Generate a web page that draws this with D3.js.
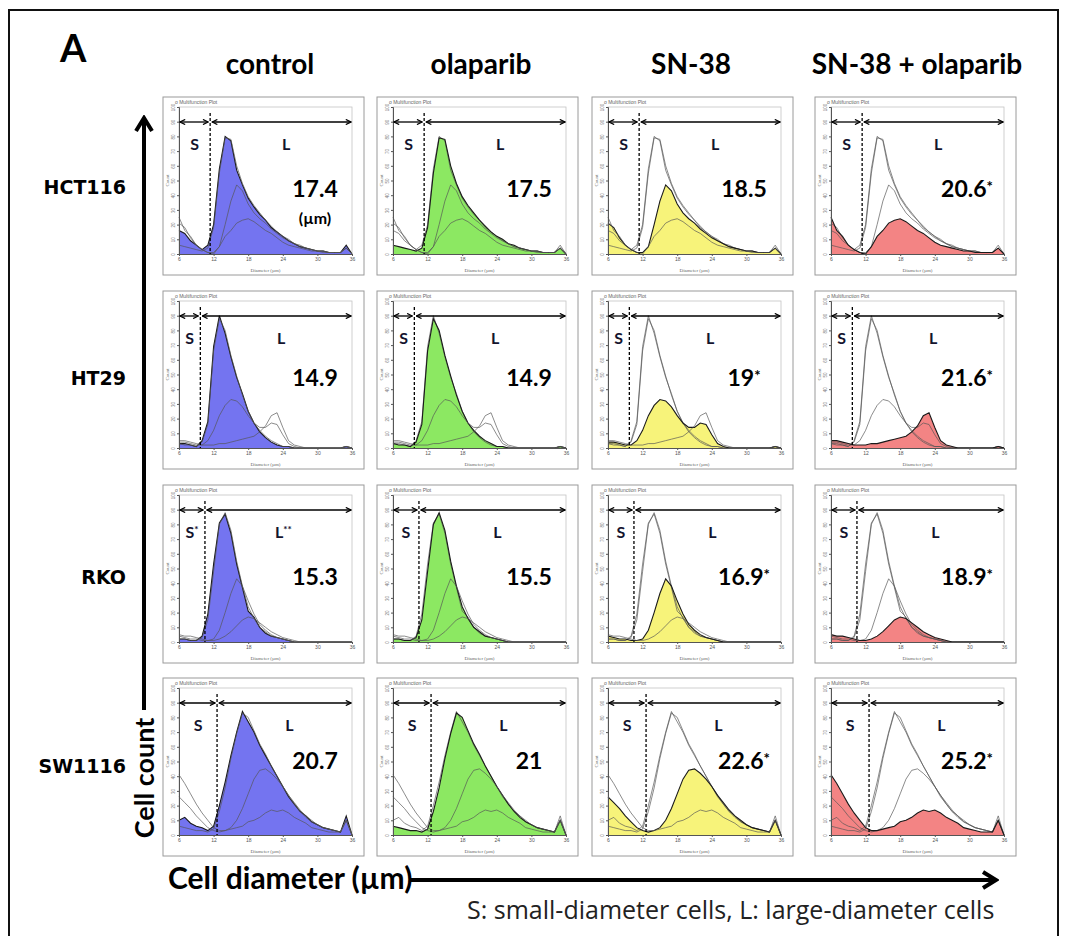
<!DOCTYPE html>
<html><head><meta charset="utf-8">
<script src="https://cdn.jsdelivr.net/npm/d3@7"></script>
<style>body{margin:0;background:#fff;} svg{display:block;}</style>
</head><body>
<svg id="fig" width="1067" height="936"></svg>
<script>
// diameter bins (µm) and relative cell counts (% of y-axis height)
var diameters = [6,7,8,9,10,11,12,13,14,15,16,17,18,19,20,21,22,23,24,25,26,27,28,29,30,31,32,33,34,35,36];
var conditions = ["control","olaparib","SN-38","SN-38 + olaparib"];
var cellLines = ["HCT116","HT29","RKO","SW1116"];
var fillColors = ["#7474f0","#8ce862","#f7f37a","#f38484"];

var hct116 = [
  [16,14,9,6,3,6, 20,58,80,77,57, 47,38,32,27,23, 18,15,12,9,7, 5,4,3,2,2, 1,1,1,6,0],
  [6,5,4,3,2,4, 18,55,79,78,60, 48,39,33,28,23, 19,15,12,10,7, 6,4,3,2,2, 1,1,1,4,0],
  [21,18,11,6,3,1, 1,5,20,36,47, 43,34,28,24,21, 17,14,11,9,7, 5,4,3,2,2, 1,1,1,4,0],
  [25,16,12,6,3,1, 0,5,12,16,21, 23,24,22,19,16, 14,11,8,6,5, 4,3,2,2,1, 1,1,1,4,0]
];
var ht29 = [
  [3,3,2,1,5,18, 69,90,78,62,48, 37,25,17,11,7, 4,2,1,1,0, 0,0,0,0,0, 0,0,0,1,0],
  [3,2,2,1,4,16, 66,88,80,63,49, 36,25,17,12,8, 5,3,1,1,0, 0,0,0,0,0, 0,0,0,1,0],
  [4,4,3,2,2,5, 12,22,29,33,32, 28,22,17,14,14, 17,16,9,3,1, 0,0,0,0,0, 0,0,0,1,0],
  [5,5,4,3,2,2, 2,3,3,4,5, 6,7,8,11,15, 22,24,14,5,2, 1,0,0,0,0, 0,0,0,1,0]
];
var rko = [
  [2,2,1,1,4,19, 53,81,87,74,53, 37,21,17,10,6, 4,3,2,1,0, 0,0,0,0,0, 0,0,0,0,0],
  [2,2,1,1,3,15, 48,80,88,76,55, 38,24,16,10,7, 4,3,2,1,0, 0,0,0,0,0, 0,0,0,0,0],
  [4,3,2,2,1,1, 2,8,20,33,43, 38,28,19,12,8, 5,3,2,1,0, 0,0,0,0,0, 0,0,0,0,0],
  [5,4,4,3,2,1, 1,2,4,7,11, 15,17,16,13,10, 7,5,3,2,1, 0,0,0,0,0, 0,0,0,0,0]
];
var sw1116 = [
  [10,12,8,6,5,3, 6,20,36,54,70, 84,77,70,61,54, 47,40,33,26,21, 16,13,9,7,5, 4,3,2,13,0],
  [6,5,4,3,3,2, 4,16,32,52,69, 83,80,71,62,55, 47,40,33,27,21, 16,12,9,7,5, 4,3,2,10,0],
  [26,22,18,13,9,5, 3,2,3,5,10, 18,28,38,44,45, 42,38,33,27,22, 17,13,10,7,5, 4,3,2,10,0],
  [41,35,28,21,15,10, 5,3,3,4,5, 6,9,10,12,15, 17,16,17,15,12, 10,8,5,4,3, 2,2,2,10,0]
];
var cutoffs = [11.4, 9.7, 10.5, 12.6];
var meanDiam = [["17.4","17.5","18.5","20.6"],["14.9","14.9","19","21.6"],["15.3","15.5","16.9","18.9"],["20.7","21","22.6","25.2"]];
var meanStar = [["","","","*"],["","","*","*"],["","","*","*"],["","","*","*"]];
var sStar = [["","","",""],["","","",""],["*","","",""],["","","",""]];
var lStar = [["","","",""],["","","",""],["**","","",""],["","","",""]];
var rowData = [hct116, ht29, rko, sw1116];

var svg = d3.select("#fig");
var colX = [163, 377, 592, 815], rowY = [97, 291, 485, 678];
var boxW = 201, boxH = 178;
var plotL = 16, plotR = 189, plotT = 10, plotB = 157;
var bold = "Lato, 'Open Sans', sans-serif";

var defs = svg.append("defs");
defs.append("marker").attr("id","hd").attr("viewBox","0 0 10 10").attr("refX",9).attr("refY",5)
  .attr("markerWidth",5).attr("markerHeight",5).attr("orient","auto-start-reverse")
  .append("path").attr("d","M1,1 L9,5 L1,9").attr("fill","none").attr("stroke","#000").attr("stroke-width",1.8);
defs.append("marker").attr("id","big").attr("viewBox","0 0 20 20").attr("refX",17).attr("refY",10)
  .attr("markerUnits","userSpaceOnUse").attr("markerWidth",20).attr("markerHeight",20).attr("orient","auto")
  .append("path").attr("d","M4,2 L17,10 L4,18").attr("fill","none").attr("stroke","#000").attr("stroke-width",4);

// outer frame
svg.append("rect").attr("x",9).attr("y",10).attr("width",1049).attr("height",1000)
  .attr("fill","none").attr("stroke","#111").attr("stroke-width",2);

svg.append("text").attr("x",60).attr("y",62).attr("font-family",bold).attr("font-weight","bold")
  .attr("font-size",38).text("A");

var colCenters = [270, 481, 691, 917];
svg.selectAll(".coltitle").data(conditions).enter().append("text")
  .attr("x",function(d,i){return colCenters[i];}).attr("y",74)
  .attr("text-anchor","middle").attr("font-family",bold).attr("font-weight","bold").attr("font-size",28)
  .text(function(d){return d;});

var rowLabelY = [194, 385, 584, 773];
svg.selectAll(".rowlab").data(cellLines).enter().append("text")
  .attr("x",126).attr("y",function(d,i){return rowLabelY[i];})
  .attr("text-anchor","end").attr("font-family","'DejaVu Sans', sans-serif").attr("font-weight","bold")
  .attr("font-size",19).text(function(d){return d;});

// big axes arrows
svg.append("line").attr("x1",144).attr("y1",710).attr("x2",144).attr("y2",118)
  .attr("stroke","#000").attr("stroke-width",4).attr("marker-end","url(#big)");
svg.append("text").attr("transform","translate(154,778) rotate(-90)").attr("text-anchor","middle")
  .attr("font-family",bold).attr("font-weight","bold").attr("font-size",27).text("Cell count");
svg.append("text").attr("x",168).attr("y",889).attr("font-family",bold).attr("font-weight","bold")
  .attr("font-size",30).text("Cell diameter (µm)");
svg.append("line").attr("x1",410).attr("y1",880).attr("x2",996).attr("y2",880)
  .attr("stroke","#000").attr("stroke-width",4).attr("marker-end","url(#big)");
svg.append("text").attr("x",467).attr("y",919).attr("font-family","'Open Sans', sans-serif")
  .attr("font-size",25).attr("fill","#222").text("S: small-diameter cells, L: large-diameter cells");

var x = d3.scaleLinear().domain([6,36]).range([plotL, plotR]);
var y = d3.scaleLinear().domain([0,100]).range([plotB, plotT]);

rowData.forEach(function(series, r){
  conditions.forEach(function(cond, c){
    var g = svg.append("g").attr("transform","translate("+colX[c]+","+rowY[r]+")");
    g.append("rect").attr("width",boxW).attr("height",boxH).attr("fill","#fff").attr("stroke","#9a9a9a");
    g.append("text").attr("x",plotL-4).attr("y",7).attr("font-size",5).attr("font-family","sans-serif")
      .attr("fill","#666").text("o Multifunction Plot");
    g.append("rect").attr("x",plotL).attr("y",plotT).attr("width",plotR-plotL).attr("height",plotB-plotT)
      .attr("fill","none").attr("stroke","#c4c4c4").attr("stroke-width",0.8);

    var pts = function(k){ return diameters.map(function(d,i){ return {d:d, v:series[k][i]}; }); };
    var area = d3.area().x(function(p){return x(p.d);}).y0(plotB).y1(function(p){return y(p.v);});
    var line = d3.line().x(function(p){return x(p.d);}).y(function(p){return y(p.v);});
    g.append("path").datum(pts(c)).attr("d",area).attr("fill",fillColors[c]);
    series.forEach(function(s,k){
      g.append("path").datum(pts(k)).attr("d",line).attr("fill","none")
        .attr("stroke", k===c ? "#1a1a1a" : "#555").attr("stroke-width", k===c ? 1.1 : 0.8)
        .attr("opacity", k===c ? 1 : 0.85);
    });

    var xa = g.append("g").attr("transform","translate(0,"+plotB+")")
      .call(d3.axisBottom(x).tickValues([6,12,18,24,30,36]).tickSize(2).tickPadding(1));
    xa.selectAll("text").attr("font-size",5).attr("fill","#555");
    xa.selectAll("line,path").attr("stroke","#555");
    var ya = g.append("g").attr("transform","translate("+plotL+",0)")
      .call(d3.axisLeft(y).ticks(10).tickSize(2));
    ya.selectAll("text").attr("font-size",4.5).attr("fill","#777").attr("x",0).attr("dy",0)
      .attr("text-anchor","middle").attr("transform","translate(-4,0) rotate(-90)");
    ya.selectAll("line,path").attr("stroke","#555");
    g.append("text").attr("transform","translate(6,"+((plotT+plotB)/2)+") rotate(-90)")
      .attr("text-anchor","middle").attr("font-size",5).attr("fill","#666").text("Count");
    g.append("text").attr("x",(plotL+plotR)/2).attr("y",175).attr("text-anchor","middle")
      .attr("font-size",5).attr("fill","#666").text("Diameter (µm)");

    var xc = x(cutoffs[r]);
    g.append("line").attr("x1",xc).attr("x2",xc).attr("y1",16).attr("y2",plotB)
      .attr("stroke","#000").attr("stroke-width",1.3).attr("stroke-dasharray","3,2");
    g.append("line").attr("x1",plotL+1).attr("x2",xc-2).attr("y1",25).attr("y2",25)
      .attr("stroke","#000").attr("stroke-width",1.3)
      .attr("marker-start","url(#hd)").attr("marker-end","url(#hd)");
    g.append("line").attr("x1",xc+2).attr("x2",plotR-1).attr("y1",25).attr("y2",25)
      .attr("stroke","#000").attr("stroke-width",1.3)
      .attr("marker-start","url(#hd)").attr("marker-end","url(#hd)");

    var sl = g.append("text").attr("x",(plotL+xc)/2).attr("y",53).attr("text-anchor","middle")
      .attr("font-family",bold).attr("font-weight","bold").attr("font-size",16).attr("fill","#14142e");
    sl.append("tspan").text("S");
    if (sStar[r][c]) sl.append("tspan").attr("font-size",10).attr("dy",-5).text(sStar[r][c]);
    var ll = g.append("text").attr("x",(xc+plotR)/2+5).attr("y",53).attr("text-anchor","middle")
      .attr("font-family",bold).attr("font-weight","bold").attr("font-size",16).attr("fill","#14142e");
    ll.append("tspan").text("L");
    if (lStar[r][c]) ll.append("tspan").attr("font-size",10).attr("dy",-5).text(lStar[r][c]);

    var valY = [100, 95, 100, 91][r];
    var vt = g.append("text").attr("x",152).attr("y",valY).attr("text-anchor","middle")
      .attr("font-family",bold).attr("font-weight","bold").attr("font-size",23).attr("fill","#000");
    vt.append("tspan").text(meanDiam[r][c]);
    if (meanStar[r][c]) vt.append("tspan").attr("font-size",15).attr("dy",-5).text(meanStar[r][c]);
    if (r===0 && c===0) {
      g.append("text").attr("x",152).attr("y",127).attr("text-anchor","middle")
        .attr("font-family",bold).attr("font-weight","bold").attr("font-size",16).text("(µm)");
    }
  });
});
</script>
</body></html>
